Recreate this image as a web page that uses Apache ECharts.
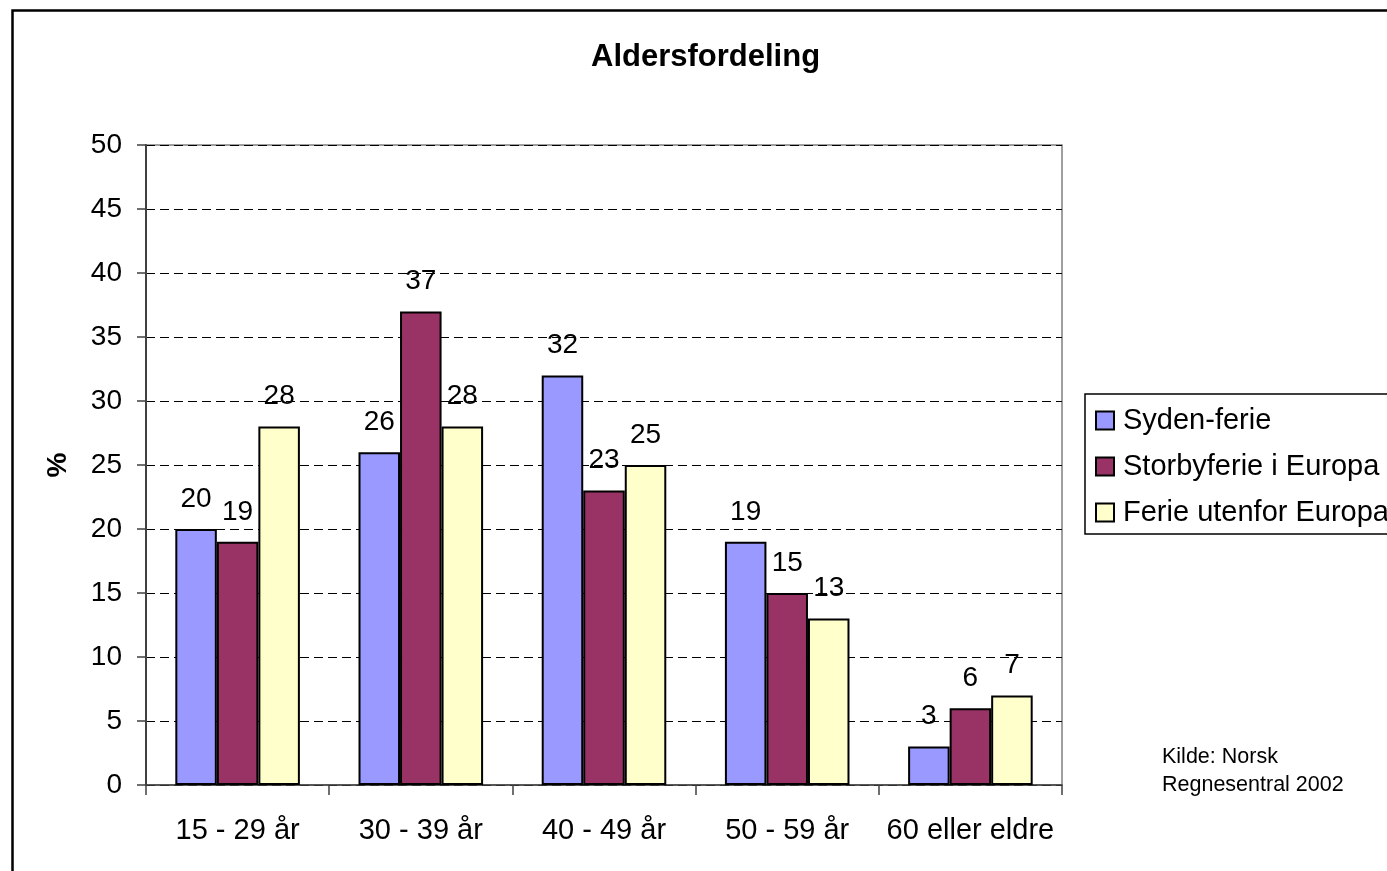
<!DOCTYPE html>
<html>
<head>
<meta charset="utf-8">
<script src="https://cdn.jsdelivr.net/npm/echarts@6/dist/echarts.min.js"></script>
<style>
html,body{margin:0;padding:0;background:#fff;}
#chart{width:1387px;height:871px;}
</style>
</head>
<body>
<div id="chart"></div>
<script>
const categories = ['15 - 29 år', '30 - 39 år', '40 - 49 år', '50 - 59 år', '60 eller eldre'];
const sydenFerie = [20, 26, 32, 19, 3];
const storbyferie = [19, 37, 23, 15, 6];
const ferieUtenfor = [28, 28, 25, 13, 7];
const seriesNames = ['Syden-ferie', 'Storbyferie i Europa', 'Ferie utenfor Europa'];
const seriesColors = ['#9999FF', '#993366', '#FFFFCC'];
const yTicks = [0, 50, 5];

const FONT = '"Liberation Sans", Arial, sans-serif';
const chart = echarts.init(document.getElementById('chart'), null, {renderer: 'canvas'});

function mkSeries(name, data, color) {
  return {
    name: name,
    type: 'bar',
    data: data,
    barGap: '0%',
    barCategoryGap: '32%',
    itemStyle: {color: color, borderColor: '#000', borderWidth: 2},
    label: {
      show: true, position: 'top', distance: 16,
      fontFamily: FONT, fontSize: 28, color: '#000'
    },
    emphasis: {disabled: true}
  };
}

chart.setOption({
  animation: false,
  backgroundColor: '#fff',
  title: {
    text: 'Aldersfordeling',
    left: 586, top: 37, padding: 5,
    textStyle: {fontFamily: FONT, fontSize: 31, fontWeight: 'bold', color: '#000'}
  },
  legend: {
    orient: 'vertical',
    left: 1085, top: 394,
    padding: [12, 14, 7, 10],
    itemWidth: 18, itemHeight: 18, itemGap: 17,
    icon: 'rect',
    borderColor: '#000', borderWidth: 1.5,
    itemStyle: {borderColor: '#000', borderWidth: 2},
    textStyle: {fontFamily: FONT, fontSize: 29, color: '#000', padding: [0, 0, 0, 4]},
    data: seriesNames
  },
  grid: {
    left: 146, right: 325, top: 145, bottom: 86,
    show: true, borderColor: '#808080', borderWidth: 1.5, backgroundColor: '#fff'
  },
  xAxis: {
    type: 'category',
    data: categories,
    axisLine: {show: true, lineStyle: {color: '#404040', width: 1.5}},
    axisTick: {show: true, interval: 0, length: 10, lineStyle: {color: '#404040', width: 1.5}},
    axisLabel: {interval: 0, fontFamily: FONT, fontSize: 29, color: '#000', margin: 31}
  },
  yAxis: {
    type: 'value',
    min: yTicks[0], max: yTicks[1], interval: yTicks[2],
    name: '%',
    nameLocation: 'middle',
    nameGap: 74,
    nameTextStyle: {fontFamily: FONT, fontSize: 28, fontWeight: 'bold', color: '#000'},
    axisLine: {show: true, lineStyle: {color: '#404040', width: 2}},
    axisTick: {show: true, inside: false, length: 9, lineStyle: {color: '#404040', width: 1.5}},
    axisLabel: {fontFamily: FONT, fontSize: 28, color: '#000', margin: 24},
    splitLine: {show: true, lineStyle: {color: '#000', type: [9, 5], width: 1}}
  },
  graphic: [
    {
      type: 'rect', left: 10, top: 8, silent: true, z: 100,
      shape: {x: 0, y: 0, width: 1420, height: 900},
      style: {fill: 'none', stroke: '#000', lineWidth: 2.5}
    },
    {
      type: 'text', left: 1162, top: 743, silent: true,
      style: {
        text: 'Kilde: Norsk\nRegnesentral 2002',
        font: '21.5px "Liberation Sans", Arial, sans-serif',
        lineHeight: 28, fill: '#000'
      }
    }
  ],
  series: [
    mkSeries(seriesNames[0], sydenFerie, seriesColors[0]),
    mkSeries(seriesNames[1], storbyferie, seriesColors[1]),
    mkSeries(seriesNames[2], ferieUtenfor, seriesColors[2])
  ]
});
</script>
</body>
</html>
